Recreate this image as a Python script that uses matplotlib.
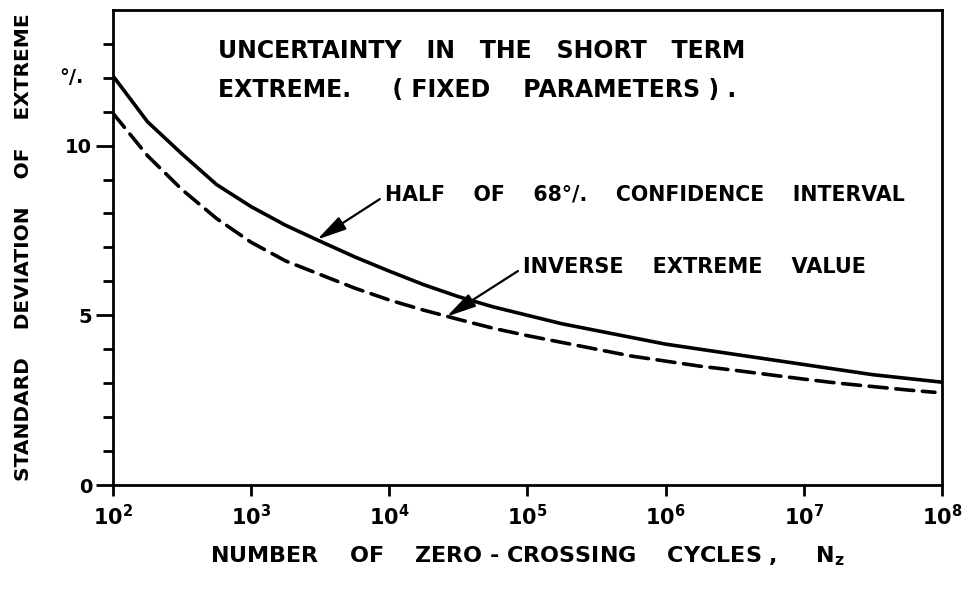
import matplotlib
matplotlib.use("Agg")
import matplotlib.pyplot as plt
from matplotlib.ticker import FixedLocator, NullFormatter, LogFormatterSciNotation

plt.rcParams['font.family'] = ['DejaVu Sans']
plt.rcParams['font.weight'] = 'bold'
plt.rcParams['axes.labelweight'] = 'bold'
plt.rcParams['mathtext.default'] = 'bf'

# log10 of the number of zero-crossing cycles (read points, quarter decades)
log_n = [2.0, 2.25, 2.5, 2.75, 3.0, 3.25, 3.5, 3.75, 4.0, 4.25, 4.5, 4.75, 5.0,
         5.25, 5.5, 5.75, 6.0, 6.25, 6.5, 6.75, 7.0, 7.25, 7.5, 7.75, 8.0]
# Half of 68% confidence interval (%)
half_ci = [12.05, 10.7, 9.75, 8.85, 8.2, 7.65, 7.18, 6.72, 6.3, 5.9, 5.55, 5.25, 5.0,
           4.75, 4.55, 4.35, 4.15, 4.0, 3.85, 3.7, 3.55, 3.4, 3.25, 3.14, 3.03]
# Inverse extreme value (%), dashed line stops just short of 10^8
log_n_inv = [2.0, 2.25, 2.5, 2.75, 3.0, 3.25, 3.5, 3.75, 4.0, 4.25, 4.5, 4.75, 5.0,
             5.25, 5.5, 5.75, 6.0, 6.25, 6.5, 6.75, 7.0, 7.25, 7.5, 7.75, 7.95]
inv_extreme = [10.95, 9.7, 8.7, 7.85, 7.15, 6.6, 6.2, 5.8, 5.45, 5.15, 4.88, 4.62, 4.4,
               4.2, 4.0, 3.8, 3.65, 3.5, 3.38, 3.25, 3.12, 3.0, 2.9, 2.8, 2.73]

x_ticks = [1e2, 1e3, 1e4, 1e5, 1e6, 1e7, 1e8]

n_cycles = [10 ** v for v in log_n]
n_cycles_inv = [10 ** v for v in log_n_inv]

fig = plt.figure(figsize=(9.66, 5.94), dpi=100)
ax = fig.add_axes([0.117, 0.1835, 0.858, 0.8])

ax.plot(n_cycles, half_ci, color='black', lw=2.6, solid_joinstyle='round')
ax.plot(n_cycles_inv, inv_extreme, color='black', lw=2.6,
        dashes=(5, 2.4), dash_capstyle='round', dash_joinstyle='round')

ax.set_xscale('log')
ax.set_xlim(1e2, 1e8)
ax.set_ylim(0, 14)

ax.xaxis.set_major_locator(FixedLocator(x_ticks))
ax.xaxis.set_major_formatter(LogFormatterSciNotation())
ax.xaxis.set_minor_locator(FixedLocator([]))
ax.yaxis.set_major_locator(FixedLocator([0, 5, 10]))
ax.yaxis.set_minor_locator(FixedLocator([1, 2, 3, 4, 6, 7, 8, 9, 11, 12, 13]))
ax.yaxis.set_minor_formatter(NullFormatter())

ax.tick_params(axis='x', which='major', direction='out', length=8, width=2,
               labelsize=15, pad=6)
ax.tick_params(axis='y', which='major', direction='out', length=12, width=2,
               labelsize=14, pad=3)
ax.tick_params(axis='y', which='minor', direction='out', length=7, width=2)

for sp in ax.spines.values():
    sp.set_linewidth(2)

ax.annotate('°/.', xy=(-0.035, 12), xycoords=('axes fraction', 'data'),
            ha='right', va='center', fontsize=14, annotation_clip=False)

ax.set_ylabel('STANDARD    DEVIATION    OF    EXTREME', fontsize=14.5)
ax.yaxis.set_label_coords(-0.096, 0.5)
ax.set_xlabel('NUMBER    OF    ZERO - CROSSING    CYCLES ,     N$_\\mathbf{z}$',
              fontsize=16)
ax.xaxis.set_label_coords(0.5, -0.125)

ax.text(0.127, 0.914, 'UNCERTAINTY   IN   THE   SHORT   TERM',
        transform=ax.transAxes, fontsize=17, va='center', ha='left')
ax.text(0.127, 0.832, 'EXTREME.     ( FIXED    PARAMETERS ) .',
        transform=ax.transAxes, fontsize=17, va='center', ha='left')

arrow = dict(arrowstyle='-|>,head_length=0.9,head_width=0.22', color='black',
             lw=1.6, mutation_scale=20, shrinkA=2, shrinkB=0, relpos=(0, 0.45))
ax.annotate('HALF    OF    68°/.    CONFIDENCE    INTERVAL',
            xy=(3.0e3, 7.23), xytext=(9.3e3, 8.55),
            fontsize=14.8, va='center', ha='left', arrowprops=arrow)
ax.annotate('INVERSE    EXTREME    VALUE',
            xy=(2.6e4, 4.96), xytext=(9.3e4, 6.43),
            fontsize=15, va='center', ha='left', arrowprops=arrow)

fig.savefig('out.png', dpi=100, facecolor='white')
